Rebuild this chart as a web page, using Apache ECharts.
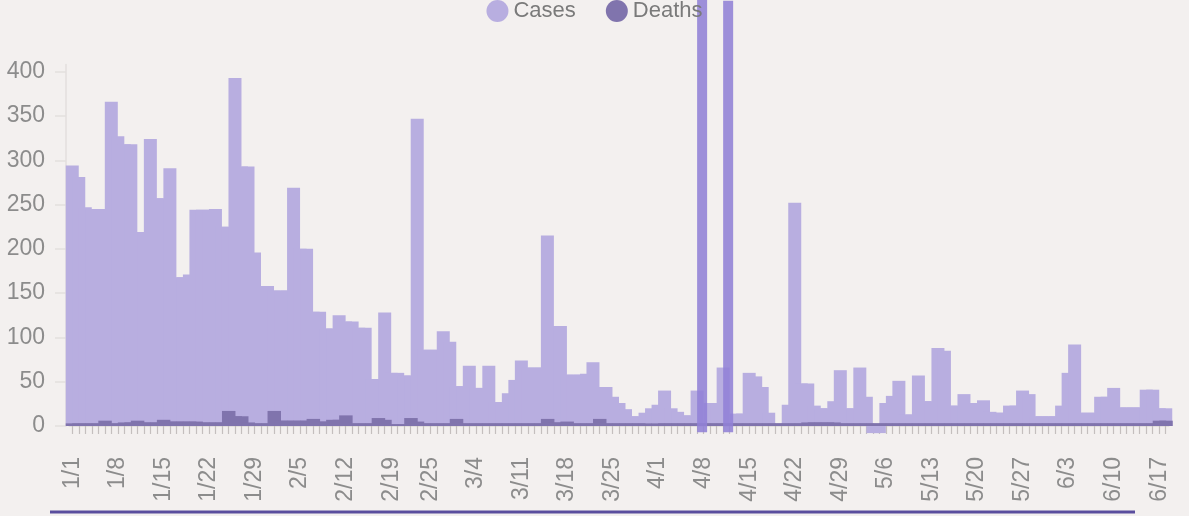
<!DOCTYPE html>
<html>
<head>
<meta charset="utf-8">
<script src="https://cdn.jsdelivr.net/npm/echarts@6/dist/echarts.min.js"></script>
<style>
html, body { margin: 0; background: #f3f0ef; }
#box1 { width: 1189px; height: 516px; }
</style>
</head>
<body>
<div id="box1"></div>
<script>
// daily values, 1/1 .. 6/18
var cases = [
    294, 281, 247, 245, 245, 245, 366, 327, 318, 318,
    219, 219, 324, 257, 257, 291, 168, 168, 171, 244,
    244, 244, 245, 225, 225, 393, 293, 293, 196, 158,
    158, 153, 153, 153, 269, 200, 200, 129, 129, 110,
    110, 125, 118, 118, 111, 111, 53, 53, 128, 60,
    60, 57, 57, 347, 86, 86, 86, 107, 95, 45,
    45, 68, 43, 43, 68, 27, 27, 37, 52, 74,
    66, 66, 66, 215, 113, 113, 58, 58, 58, 59,
    72, 44, 44, 33, 26, 19, 11, 11, 15, 20,
    24, 40, 20, 16, 12, 12, 40, null, 26, 26,
    66, null, 14, 14, 60, 56, 44, 15, 2, 2,
    24, 252, 48, 48, 23, 20, 20, 28, 63, 20,
    20, 66, 33, -8, -8, 26, 34, 51, 13, 13,
    57, 28, 28, 88, 85, 23, 23, 36, 26, 26,
    29, 16, 15, 15, 23, 23, 40, 36, 11, 11,
    11, 11, 23, 60, 92, 15, 15, 15, 33, 33,
    43, 21, 21, 21, 21, 41, 41, 20, 20
];
var deaths = [
    3, 3, 3, 3, 3, 6, 3, 3, 4, 4,
    6, 4, 4, 4, 7, 5, 5, 5, 5, 5,
    4, 4, 4, 4, 17, 11, 11, 4, 3, 3,
    3, 17, 6, 6, 6, 6, 6, 8, 5, 5,
    7, 7, 12, 3, 3, 3, 3, 9, 7, 2,
    2, 2, 9, 5, 3, 3, 3, 3, 3, 8,
    3, 3, 3, 3, 3, 3, 3, 3, 3, 3,
    3, 3, 3, 8, 4, 4, 5, 3, 3, 3,
    3, 8, 3, 3, 3, 3, 3, 3, 3, 2,
    3, 3, 3, 3, 3, 3, 3, 3, 3, 3,
    3, 3, 3, 3, 3, 3, 3, 3, 3, 3,
    3, 3, 3, 4, 4, 4, 4, 4, 3, 3,
    3, 3, 3, 3, 3, 3, 3, 3, 3, 3,
    3, 3, 3, 3, 3, 3, 3, 3, 3, 3,
    3, 3, 3, 3, 3, 3, 3, 3, 3, 3,
    3, 3, 3, 3, 3, 3, 3, 3, 3, 3,
    3, 3, 3, 3, 3, 3, 3, 6, 6
];
// the two very large days, drawn apart
var spikeDays = ['4/8', '4/12'];
var spikeValues = [560, 487];
var spikeBelow = [-7, -7];

var tickLabels = ['1/1', '1/8', '1/15', '1/22', '1/29', '2/5', '2/12', '2/19', '2/25',
    '3/4', '3/11', '3/18', '3/25', '4/1', '4/8', '4/15', '4/22', '4/29', '5/6',
    '5/13', '5/20', '5/27', '6/3', '6/10', '6/17'];
var yTicks = [0, 50, 100, 150, 200, 250, 300, 350, 400];

var monthDays = [31, 28, 31, 30, 31, 30];
var dates = [];
for (var m = 0; m < monthDays.length && dates.length < cases.length; m++) {
    for (var d = 1; d <= monthDays[m] && dates.length < cases.length; d++) {
        dates.push((m + 1) + '/' + d);
    }
}
var spikeData = dates.map(function (dt) {
    var i = spikeDays.indexOf(dt);
    return i < 0 ? null : spikeValues[i];
});
var spikeBaseData = dates.map(function (dt) {
    var i = spikeDays.indexOf(dt);
    return i < 0 ? null : spikeBelow[i];
});

var grey = '#8c8c8c';
var font = 'Liberation Sans, Arial, sans-serif';
var myChart = echarts.init(document.getElementById('box1'));
var option = {
    backgroundColor: '#f3f0ef',
    animation: false,
    textStyle: { fontFamily: font },
    legend: {
        data: ['Cases', 'Deaths'],
        top: 0,
        left: 'center',
        padding: 0,
        icon: 'circle',
        itemWidth: 22,
        itemHeight: 22,
        itemGap: 30,
        textStyle: { fontSize: 22, color: '#7a7a7a', fontFamily: font }
    },
    grid: {
        left: 69,
        right: 20,
        top: 64.6,
        bottom: 90
    },
    xAxis: {
        type: 'category',
        data: dates,
        boundaryGap: true,
        axisLine: { lineStyle: { color: '#e3dfde', width: 1 } },
        axisTick: {
            show: true,
            alignWithLabel: true,
            interval: 0,
            length: 8,
            lineStyle: { color: '#c4bfbe', width: 1.2 }
        },
        axisLabel: {
            rotate: 90,
            margin: 31,
            fontSize: 23,
            color: grey,
            fontFamily: font,
            interval: function (index, value) {
                return tickLabels.indexOf(value) >= 0;
            }
        },
        splitLine: { show: false }
    },
    yAxis: {
        type: 'value',
        min: 0,
        max: 408,
        offset: 3,
        axisLine: { show: true, lineStyle: { color: '#e3dfde', width: 1.5 } },
        axisTick: {
            show: true,
            length: 11,
            customValues: yTicks,
            lineStyle: { color: '#e3dfde', width: 1.5 }
        },
        axisLabel: {
            customValues: yTicks,
            margin: 21,
            fontSize: 23,
            color: grey,
            fontFamily: font
        },
        splitLine: { show: false }
    },
    series: [
        {
            name: 'Deaths',
            type: 'bar',
            data: deaths,
            barWidth: 13.5,
            barGap: '-100%',
            clip: false,
            z: 2,
            itemStyle: { color: '#8074ad' }
        },
        {
            name: 'outlier base',
            type: 'bar',
            stack: 'spike',
            stackStrategy: 'all',
            data: spikeBaseData,
            barWidth: 10,
            barGap: '-100%',
            clip: false,
            z: 2,
            itemStyle: { color: 'rgba(0,0,0,0)' }
        },
        {
            name: 'Cases (large days)',
            type: 'bar',
            stack: 'spike',
            stackStrategy: 'all',
            data: spikeData,
            barWidth: 10,
            barGap: '-100%',
            clip: false,
            z: 2,
            itemStyle: { color: 'rgba(145,129,214,0.88)' }
        },
        {
            name: 'Cases',
            type: 'bar',
            data: cases,
            barWidth: 13,
            barGap: '-100%',
            clip: false,
            z: 1,
            itemStyle: { color: '#b8aee0' }
        }
    ],
    graphic: [
        {
            type: 'rect',
            left: 50,
            top: 510.5,
            shape: { width: 1085, height: 3 },
            style: { fill: '#5a4e9e' },
            silent: true
        }
    ]
};
myChart.setOption(option);
</script>
</body>
</html>
